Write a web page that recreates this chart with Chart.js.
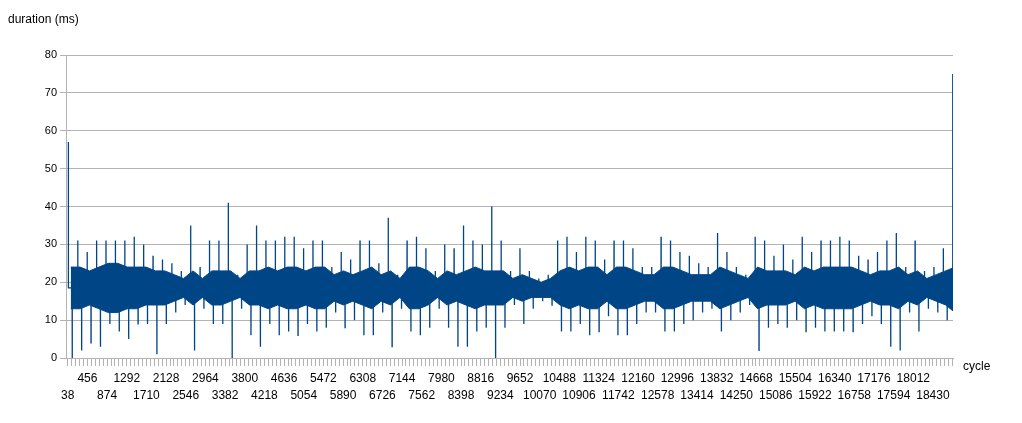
<!DOCTYPE html>
<html>
<head>
<meta charset="utf-8">
<script src="https://cdn.jsdelivr.net/npm/chart.js@4/dist/chart.umd.min.js"></script>
<style>
  html, body { margin: 0; padding: 0; background: #fff; }
  #wrap { width: 1022px; height: 423px; }
</style>
</head>
<body>
<div id="wrap"><canvas id="c"></canvas></div>
<script>
// 値は画像から読み取った推定値 (200 cycle ごとの区間)
const binSize = 200;
const firstCycle = 38;
const labelStep = 418;
const labelCount = 45;

// 区間ごとの最大値
const peakHigh = [57,31,28,31,31,31,31,32,30,27, 26,25,23,35,24,31,31,41,22,30,
                  35,31,31,32,32,29,31,31,24,28, 26,31,31,25,37,22,31,32,29,23,
                  30,29,35,31,30,40,31,23,29,23, 21,22,31,32,28,32,31,26,31,31,
                  29,24,24,32,31,28,27,25,24,33, 28,24,22,32,31,27,30,26,32,28,
                  31,31,32,31,27,26,28,31,33,24, 31,23,24,29,75];
// 区間ごとの最小値
const peakLow  = [0,2,4,3,9,7,5,9,9,1, 9,12,14,2,13,9,9,0,13,6,
                  3,9,6,7,6,9,7,8,12,8, 10,6,6,12,3,13,7,6,8,13,
                  8,3,3,7,8,0,8,14,9,13, 15,14,7,7,9,6,7,11,6,6,
                  9,12,12,7,7,9,10,12,13,7, 10,12,14,2,8,9,8,10,7,8,
                  7,7,7,7,9,11,9,3,2,12, 7,13,12,10,6];
// 帯の上端・下端
const coreHigh = [24,24,23,24,25,25,24,24,24,23, 23,22,21,23,21,23,23,23,21,23,
                  23,24,23,24,24,23,24,24,22,23, 22,23,24,22,23,21,24,24,23,21,
                  23,22,23,24,23,23,23,21,22,21, 20,21,23,24,23,24,24,22,24,24,
                  23,22,22,24,24,23,22,22,22,24, 23,22,21,24,23,23,23,22,24,23,
                  24,24,24,24,23,22,23,23,24,22, 23,21,22,23,24];
const coreLow  = [13,13,14,13,12,12,13,13,14,14, 14,15,16,14,16,14,14,15,16,14,
                  14,13,14,13,13,14,13,13,15,14, 15,14,13,15,14,16,13,13,14,16,
                  14,15,14,13,14,14,14,16,15,16, 16,16,14,13,14,13,13,15,13,13,
                  14,15,15,13,13,14,15,15,15,13, 14,15,16,13,14,14,14,15,13,14,
                  13,13,13,13,14,15,14,14,13,15, 14,16,15,14,12];

const blue = '#004586';
const xMax = 18856;

const spikePts = [];
const bandTop = [];
const bandBottom = [];
peakHigh.forEach((h, i) => {
    const start = i * binSize;
    const mid = (coreHigh[i] + coreLow[i]) / 2;
    spikePts.push({x: start + 48, y: mid});
    spikePts.push({x: start + 50, y: h});
    spikePts.push({x: start + 52, y: mid});
    spikePts.push({x: start + 130, y: mid});
    spikePts.push({x: start + 132, y: peakLow[i]});
    spikePts.push({x: start + 134, y: mid});
    bandTop.push({x: start + 100, y: coreHigh[i]});
    bandBottom.push({x: start + 100, y: coreLow[i]});
});

const labelCycles = [];
for (let k = 0; k < labelCount; k++) labelCycles.push(firstCycle + k * labelStep);

const textPlugin = {
    id: 'texts',
    afterDraw(chart) {
        const ctx = chart.ctx;
        ctx.save();
        ctx.fillStyle = '#000';
        ctx.font = '12px "Liberation Sans", Arial, sans-serif';
        ctx.textBaseline = 'middle';
        ctx.fillText('duration (ms)', 8, 20);
        ctx.fillText('cycle', 963, 367);
        ctx.restore();
    }
};

new Chart(document.getElementById('c'), {
    type: 'line',
    data: {
        datasets: [
            { data: bandTop, borderColor: blue, borderWidth: 1, pointRadius: 0, fill: false },
            { data: bandBottom, borderColor: blue, borderWidth: 1, pointRadius: 0, fill: '-1', backgroundColor: blue },
            { data: spikePts, borderColor: blue, borderWidth: 1.3, pointRadius: 0, tension: 0, fill: false }
        ]
    },
    options: {
        responsive: true,
        maintainAspectRatio: false,
        animation: false,
        layout: { padding: { left: 0, right: 69, top: 55, bottom: 0 } },
        plugins: { legend: { display: false }, tooltip: { enabled: false } },
        scales: {
            x: {
                type: 'linear',
                min: 0,
                max: xMax,
                afterFit(s) { s.height = 65; },
                afterBuildTicks(s) {
                    const t = [];
                    for (let v = firstCycle; v <= xMax; v += labelStep / 5) t.push({value: v});
                    s.ticks = t;
                },
                border: { color: '#b3b3b3' },
                grid: { drawOnChartArea: false, tickLength: 8, color: '#b3b3b3' },
                ticks: {
                    autoSkip: false,
                    maxRotation: 0,
                    minRotation: 0,
                    color: '#000',
                    font: { family: '"Liberation Sans Narrow", "Liberation Sans", Arial, sans-serif', size: 12, lineHeight: 1.45 },
                    padding: 4,
                    callback(v) {
                        const k = Math.round((v - firstCycle) / labelStep);
                        if (k >= labelCount || Math.abs(v - labelCycles[k]) > 1) return '';
                        return k % 2 === 0 ? ['', String(labelCycles[k])] : [String(labelCycles[k]), ''];
                    }
                }
            },
            y: {
                min: 0,
                max: 80,
                afterFit(s) { s.width = 66; },
                border: { color: '#b3b3b3' },
                grid: { color: '#b3b3b3', tickLength: 6 },
                ticks: {
                    stepSize: 10,
                    color: '#000',
                    font: { family: '"Liberation Sans", Arial, sans-serif', size: 11 }
                }
            }
        }
    },
    plugins: [textPlugin]
});
</script>
</body>
</html>
